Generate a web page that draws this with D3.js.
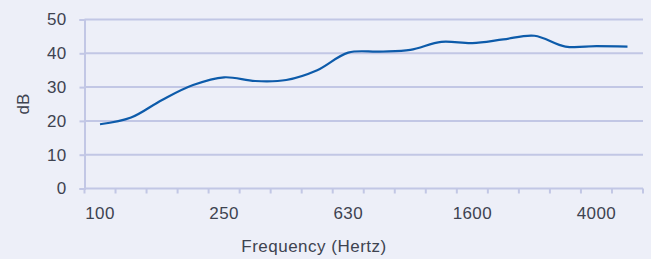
<!DOCTYPE html>
<html>
<head>
<meta charset="utf-8">
<script src="https://cdn.jsdelivr.net/npm/d3@7"></script>
<style>
  html, body { margin: 0; padding: 0; background: #EDEFF8; }
  svg { display: block; }
  text { font-family: "Liberation Sans", Arial, sans-serif; fill: #3E4350; }
</style>
</head>
<body>
<svg id="chart" width="651" height="259"></svg>
<script>
const categories = ["100","125","160","200","250","315","400","500","630","800","1000","1250","1600","2000","2500","3150","4000","5000"];
const values = [19, 21, 26.2, 30.6, 32.9, 31.8, 32.1, 35, 40.2, 40.5, 41, 43.4, 43, 44.1, 45.2, 42, 42.1, 42];
const shownLabels = ["100","250","630","1600","4000"];
const yTicks = [0, 10, 20, 30, 40, 50];
const xTitle = "Frequency (Hertz)";
const yTitle = "dB";

(function () {
const svg = d3.select("#chart");
const mLeft = 84.5, mRight = 643, mTop = 19.5, mBottom = 188.5;
const gridColor = "#C2C7E5";

svg.append("rect").attr("width", 651).attr("height", 259).attr("fill", "#EDEFF8");

const x = d3.scaleBand().domain(categories).range([mLeft, mRight]).padding(0);
const y = d3.scaleLinear().domain([0, 50]).range([mBottom, mTop]);

// gridlines
svg.append("g").selectAll("line").data(yTicks.filter(d => d > 0)).join("line")
  .attr("x1", mLeft).attr("x2", mRight)
  .attr("y1", d => y(d)).attr("y2", d => y(d))
  .attr("stroke", gridColor).attr("stroke-width", 2);

// y axis
const yAxis = d3.axisLeft(y).tickValues(yTicks).tickSize(5).tickPadding(13);
const gy = svg.append("g").attr("transform", `translate(${mLeft},0)`).call(yAxis);
gy.select(".domain").attr("stroke", gridColor).attr("stroke-width", 2);
gy.selectAll(".tick line").attr("stroke", gridColor).attr("stroke-width", 2);
gy.selectAll(".tick text").attr("font-size", 17).attr("letter-spacing", "0.3px")
  .style("font-family", '"Liberation Sans", Arial, sans-serif').attr("fill", "#3E4350");

// x axis: ticks at band boundaries
const boundaries = categories.map(c => x(c)).concat([x(categories[categories.length - 1]) + x.bandwidth()]);
svg.append("line").attr("x1", mLeft).attr("x2", mRight).attr("y1", mBottom).attr("y2", mBottom)
  .attr("stroke", gridColor).attr("stroke-width", 2);
svg.append("g").selectAll("line").data(boundaries).join("line")
  .attr("x1", d => d).attr("x2", d => d).attr("y1", mBottom).attr("y2", mBottom + 5)
  .attr("stroke", gridColor).attr("stroke-width", 2);

svg.append("g").selectAll("text").data(shownLabels).join("text")
  .attr("x", d => x(d) + x.bandwidth() / 2).attr("y", 219)
  .attr("text-anchor", "middle").attr("font-size", 17).attr("letter-spacing", "0.4px")
  .text(d => d);

// line
const line = d3.line()
  .x((d, i) => x(categories[i]) + x.bandwidth() / 2)
  .y(d => y(d))
  .curve(d3.curveCatmullRom.alpha(0.5));
svg.append("path").datum(values).attr("d", line)
  .attr("fill", "none").attr("stroke", "#0D5BAA").attr("stroke-width", 2.2);

// titles
svg.append("text").attr("x", 314).attr("y", 252).attr("text-anchor", "middle")
  .attr("font-size", 17).attr("letter-spacing", "0.5px").text(xTitle);
svg.append("text").attr("transform", `translate(29,104) rotate(-90)`)
  .attr("text-anchor", "middle").attr("font-size", 17).text(yTitle);
})();
</script>
</body>
</html>
